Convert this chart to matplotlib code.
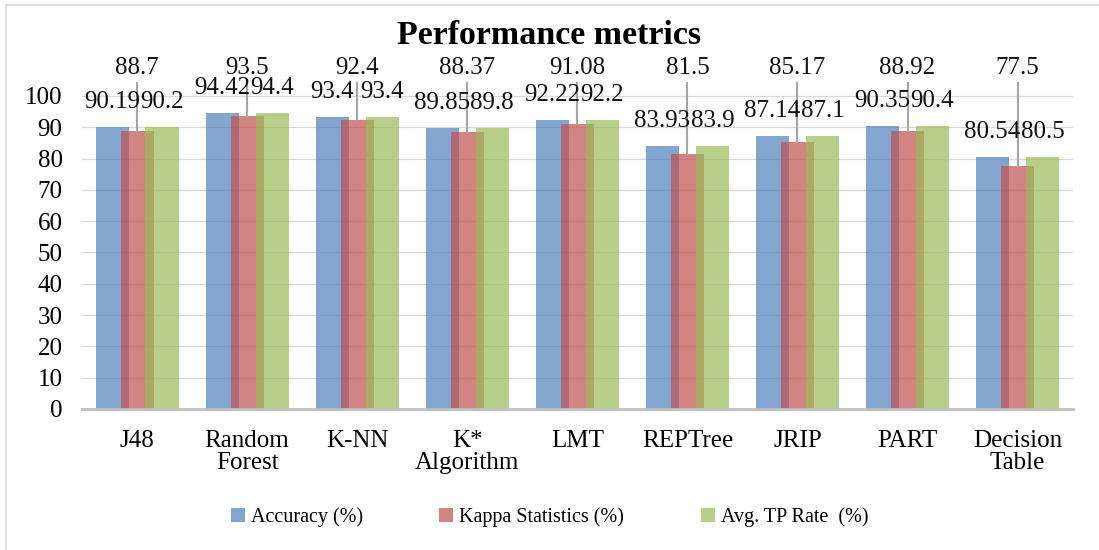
import matplotlib.pyplot as plt
import matplotlib.lines as mlines
import numpy as np

plt.rcParams['font.family'] = ['Liberation Serif', 'DejaVu Serif']

# datos
categorias = ["J48", "Random\nForest", "K-NN", "K*\nAlgorithm", "LMT",
              "REPTree", "JRIP", "PART", "Decision\nTable"]
accuracy = [90.19, 94.42, 93.4, 89.85, 92.22, 83.93, 87.14, 90.35, 80.54]
kappa = [88.7, 93.5, 92.4, 88.37, 91.08, 81.5, 85.17, 88.92, 77.5]
tp_rate = [90.2, 94.4, 93.4, 89.8, 92.2, 83.9, 87.1, 90.4, 80.5]

acc_labels = ["90.19", "94.42", "93.4", "89.85", "92.22", "83.93", "87.14", "90.35", "80.54"]
kappa_labels = ["88.7", "93.5", "92.4", "88.37", "91.08", "81.5", "85.17", "88.92", "77.5"]
tp_labels = ["90.2", "94.4", "93.4", "89.8", "92.2", "83.9", "87.1", "90.4", "80.5"]

series = ["Accuracy (%)", "Kappa Statistics (%)", "Avg. TP Rate  (%)"]
colores = ["#4F81BD", "#C0504D", "#9BBB59"]

fig = plt.figure(figsize=(10.99, 5.5), dpi=100)
ax = fig.add_axes([0.0746, 0.2564, 0.9014, 0.683])

x = np.arange(len(categorias))
ancho = 0.30
paso = 0.227

ax.bar(x - paso, accuracy, ancho, color=colores[0], alpha=0.7, label=series[0], zorder=2)
ax.bar(x, kappa, ancho, color=colores[1], alpha=0.7, label=series[1], zorder=3)
ax.bar(x + paso, tp_rate, ancho, color=colores[2], alpha=0.7, label=series[2], zorder=4)

fs = 18
for i in range(len(categorias)):
    ax.text(x[i] - paso, accuracy[i] + 8, acc_labels[i], ha="center", va="center",
            fontsize=fs, color="#111111", zorder=6)
    ax.text(x[i] + paso, tp_rate[i] + 8, tp_labels[i], ha="center", va="center",
            fontsize=fs, color="#111111", zorder=6)
    y_lab = 109
    ax.text(x[i], y_lab, kappa_labels[i], ha="center", va="center",
            fontsize=fs, color="#111111", zorder=6)
    ax.plot([x[i], x[i]], [y_lab - 5, kappa[i]], color="#A6A6A6", lw=1.5, zorder=5)

ax.set_xlim(-0.5, len(categorias) - 0.5)
ax.set_ylim(0, 120)
ax.set_yticks(np.arange(0, 101, 10))
ax.set_xticks(x)
ax.set_xticklabels(categorias, fontsize=fs, linespacing=1.0)
ax.tick_params(axis="y", length=0, pad=14, labelsize=fs)
ax.tick_params(axis="x", length=0, pad=15)
ax.yaxis.grid(True, color="#D9D9D9", lw=0.9, zorder=0)
ax.set_axisbelow(True)
for s in ["top", "right", "left"]:
    ax.spines[s].set_visible(False)
ax.spines["bottom"].set_color("#BFBFBF")
ax.spines["bottom"].set_linewidth(2)
ax.spines["bottom"].set_zorder(7)

fig.text(0.5, 1 - 35 / 550, "Performance metrics", ha="center", va="center",
         fontsize=24.5, fontweight="bold")

ax.legend(loc="center", bbox_to_anchor=(0.5, 1 - 517 / 550), bbox_transform=fig.transFigure,
          ncol=3, frameon=False, fontsize=14.5, handlelength=0.7, handleheight=0.7,
          handletextpad=0.3, columnspacing=3.8)

# borde del grafico
fig.add_artist(mlines.Line2D([6 / 1099, 6 / 1099], [0, 1 - 5 / 550], color="#D9D9D9", lw=1.2))
fig.add_artist(mlines.Line2D([6 / 1099, 1], [1 - 5 / 550, 1 - 5 / 550], color="#D9D9D9", lw=1.2))

fig.savefig("out.png", dpi=100)
